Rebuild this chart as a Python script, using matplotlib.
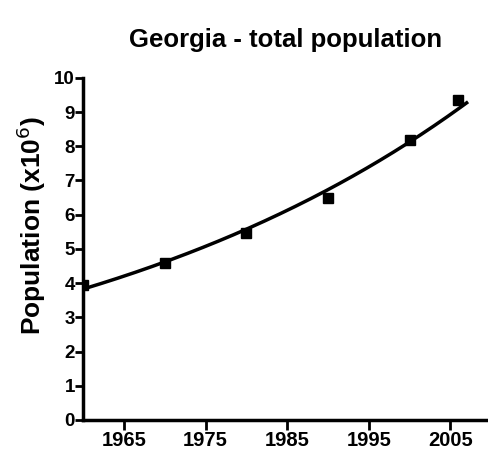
import numpy as np
import matplotlib
matplotlib.use("Agg")
import matplotlib.pyplot as plt

years = [1960, 1970, 1980, 1990, 2000, 2006]
population = [3.94, 4.59, 5.46, 6.48, 8.19, 9.36]
xticks = [1965, 1975, 1985, 1995, 2005]
yticks = list(range(0, 11))

plt.rcParams['font.family'] = ['Liberation Sans', 'DejaVu Sans']

# exponential fit through the data points
b, a = np.polyfit(years, np.log(population), 1)
xfit = np.linspace(1960, 2007, 200)
yfit = np.exp(a + b * xfit)

fig = plt.figure(figsize=(4.89, 4.58), dpi=100)
ax = fig.add_axes([0.17, 0.083, 0.826, 0.747])

ax.plot(years, population, 's', color='black', markersize=7)
ax.plot(xfit, yfit, color='black', linewidth=2.5)

ax.set_xlim(1960, 2009.5)
ax.set_ylim(0, 10)
ax.set_xticks(xticks)
ax.set_yticks(yticks)
ax.tick_params(axis='both', width=2)
ax.tick_params(axis='x', length=7, pad=1, labelsize=14.5)
ax.tick_params(axis='y', length=6, pad=0, labelsize=13.5)
for lab in ax.get_xticklabels() + ax.get_yticklabels():
    lab.set_fontweight('bold')
for s in ['top', 'right']:
    ax.spines[s].set_visible(False)
for s in ['left', 'bottom']:
    ax.spines[s].set_linewidth(2.5)

fig.text(0.063, 0.507, 'Population (x10$^6$)', fontsize=19, fontweight='bold',
         rotation=90, ha='center', va='center')
fig.text(0.583, 0.912, 'Georgia - total population', fontsize=18.5, fontweight='bold',
         ha='center', va='center')

plt.savefig('out.png', dpi=100)
